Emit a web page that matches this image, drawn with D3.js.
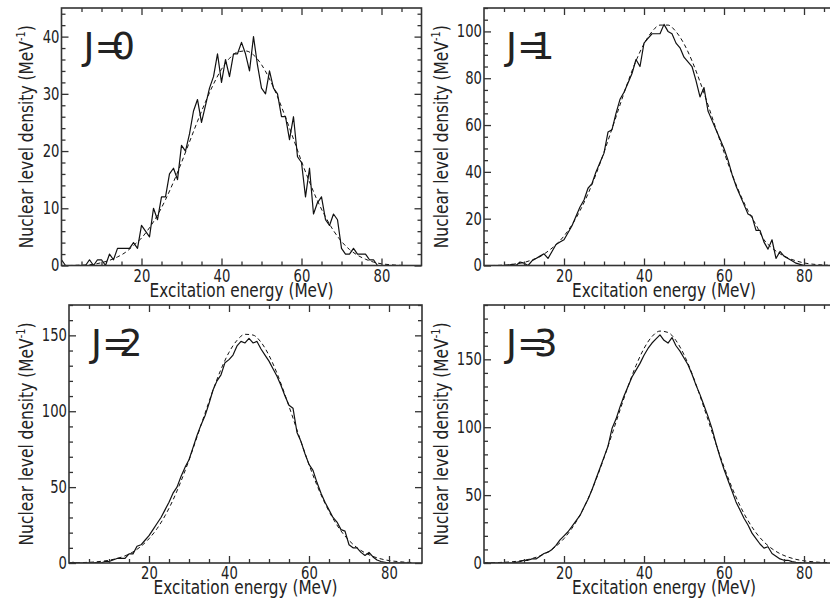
<!DOCTYPE html>
<html>
<head>
<meta charset="utf-8">
<script src="https://cdn.jsdelivr.net/npm/d3@7"></script>
<style>
  body { margin: 0; background: #fff; }
  svg { display: block; }
  text { font-family: "DejaVu Sans", sans-serif; fill: #222; }
</style>
</head>
<body>
<svg width="830" height="600"></svg>
<script>
// excitation energy bins (MeV)
const energy = [0,1,2,3,4,5,6,7,8,9,10,11,12,13,14,15,16,17,18,19,20,21,22,23,24,25,26,27,28,29,
  30,31,32,33,34,35,36,37,38,39,40,41,42,43,44,45,46,47,48,49,50,51,52,53,54,55,56,57,58,59,
  60,61,62,63,64,65,66,67,68,69,70,71,72,73,74,75,76,77,78,79,80,81,82,83,84,85];

// counted level density (solid lines)
const densityJ0 = [1,0,0,0,0,0,0,1,0,1, 1,0,2,1,3,3,3,3,4,3, 7,6,5,10,8,12,12,16,17,15,
  21,20,23,27,29,25,28,31,33,37, 32,36,33,37,37,39,37,34,40,35, 31,30,34,31,30,26,26,22,26,19,
  18,12,17,9,11,12,8,7,9,8, 3,2,2,3,2,2,2,1,1,0, 0,0,0,0,0,0];
const densityJ1 = [0,0,0,0,0,0,0,0.5,0,1.5, 1,0,2,3,4,5,3,6,9,10, 11,14,17,21,25,28,33,35,40,44,
  48,57,58,65,71,74,78,82,88,85, 95,97,99,99,99,103,100,99,95,93, 89,87,85,79,72,76,66,62,58,54,
  50,45,39,34,30,26,22,21,15,15, 10,7,11,3,6,4,3,2,1,0.5, 0,0,0,0,0,0];
const densityJ2 = [0,0.5,0,0,0,0,0,0.5,0,1, 1,2,3,3,3,6,6,11,12,15, 18,22,26,30,35,40,46,50,57,63,
  68,76,84,91,97,105,114,120,124,132, 134,137,143,146,145,148,145,146,141,137, 133,128,123,117,110,104,102,86,80,72,
  65,61,53,46,40,35,30,27,22,21, 12,10,10,7,5,7,4,2,1,0.5, 0,0,0,0,0,0];
const densityJ3 = [0,0,0,0,0,0,0,0,0.5,1, 2,2,3,3,5,7,8,10,13,17, 20,23,27,31,35,41,47,54,62,70,
  78,86,99,106,115,123,130,137,142,147, 153,158,162,165,168,164,162,166,160,156, 151,146,139,131,124,116,108,99,88,78,
  69,61,53,45,39,33,28,22,18,14, 11,12,7,5,3,2,2,1,0.5,0.3, 0,0,0,0,0,0];

// smooth estimate (dashed lines)
const fitEnergy = [0,2,4,6,8,10,12,14,16,18,20,22,24,26,28,30,32,34,36,38,40,42,
  44,46,48,50,52,54,56,58,60,62,64,66,68,70,72,74,76,78,80,82,84,86];
const fitJ0 = [0,0,0.05,0.1,0.2,0.5,0.9,1.5,2.3,3.5,4.8,6.6,8.8,11.5,14.6,18,21.6,25.2,28.6,31.7,34.3,36.2,
  37.3,37.5,36.8,35.1,32.6,29.5,25.9,22.1,18.2,14.6,11.3,8.5,6.1,4.2,2.8,1.8,1.1,0.6,0.3,0.15,0.05,0];
const fitJ1 = [0,0,0.1,0.3,0.7,1.3,2.4,3.8,6.1,8.9,12.6,17.4,23.4,30.6,39,48.4,58.4,68.6,78.5,87.4,94.7,99.9,
  102.7,102.7,99.9,94.7,87.4,78.5,68.6,58.4,48.4,39,30.6,23.4,17.4,11,7.5,5,3.2,2,1.1,0.6,0.3,0.1];
const fitJ2 = [0.1,0.2,0.35,0.6,1.1,1.8,3,4.7,7.3,11,16,22.6,31.1,41.5,53.9,67.8,83,98.6,113.8,127.6,138.8,146.7,
  150.7,150.2,145.5,136.8,125,110.8,95.5,79.9,64.9,51.2,39.3,29.3,21.1,14.9,10.1,6.7,4.3,2.7,1.6,1,0.55,0.3];
const fitJ3 = [0.1,0.2,0.4,0.7,1.2,2,3.3,5.3,8.2,12.3,18,25.6,35.3,47.2,61.4,77.4,94.8,112.6,129.9,145.4,158,166.8,
  170.8,169.8,163.8,153.4,139.5,123.1,105.5,87.7,70.8,55.5,42.2,31.2,22.3,15.5,10.5,6.9,4.4,2.7,1.6,1,0.5,0.3];

const spinLabels = ["0", "1", "2", "3"];
const xTicks = [20, 40, 60, 80];
const xMinor = [5, 10, 15, 25, 30, 35, 45, 50, 55, 65, 70, 75, 85];
const yTicksJ0 = [0, 10, 20, 30, 40];
const yTicksJ1 = [0, 20, 40, 60, 80, 100];
const yTicksJ2 = [0, 50, 100, 150];
const yTicksJ3 = [0, 50, 100, 150];

const svg = d3.select("svg");

const panels = [
  { spin: spinLabels[0], density: densityJ0, fit: fitJ0, yMax: 45, yTicks: yTicksJ0, yStep: 2,
    left: 61.5, right: 421.5, top: 8, bottom: 265.5, xMax: 90, titleX: 33 },
  { spin: spinLabels[1], density: densityJ1, fit: fitJ1, yMax: 110, yTicks: yTicksJ1, yStep: 5,
    left: 484, right: 844, top: 8, bottom: 265.5, xMax: 90, titleX: 448 },
  { spin: spinLabels[2], density: densityJ2, fit: fitJ2, yMax: 170, yTicks: yTicksJ2, yStep: 10,
    left: 69, right: 422, top: 305, bottom: 563, xMax: 88.25, titleX: 33 },
  { spin: spinLabels[3], density: densityJ3, fit: fitJ3, yMax: 190, yTicks: yTicksJ3, yStep: 10,
    left: 484, right: 844, top: 305, bottom: 563, xMax: 90, titleX: 448 }
];

const charWidth = 8.4;

// horizontal squeeze factor so a text fills the given width (the figure uses narrow glyphs)
function squeeze(node, width) {
  const w = node.getComputedTextLength();
  return w > 0 ? width / w : 1;
}

function styleAxis(g) {
  g.select(".domain").remove();
  g.selectAll("line").attr("stroke", "#333").attr("stroke-width", 1.3);
  g.selectAll("text").each(function () {
    if (!this.textContent) return;
    const t = d3.select(this)
      .attr("font-size", 17)
      .attr("fill", "#222")
      .attr("font-family", null);
    const x0 = +t.attr("x") || 0;
    const sx = squeeze(this, this.textContent.length * charWidth);
    t.attr("x", 0).attr("transform", `translate(${x0},0) scale(${sx},1)`);
  });
}

function drawPanel(p) {
  const x = d3.scaleLinear().domain([0, p.xMax]).range([p.left, p.right]);
  const y = d3.scaleLinear().domain([0, p.yMax]).range([p.bottom, p.top]);
  const yMinor = d3.range(0, p.yMax + 0.001, p.yStep).filter(v => !p.yTicks.includes(v));

  const g = svg.append("g");

  const clipId = "clip" + p.spin;
  g.append("clipPath").attr("id", clipId)
    .append("rect")
    .attr("x", p.left).attr("y", p.top)
    .attr("width", p.right - p.left).attr("height", p.bottom - p.top);

  const line = d3.line().x(d => x(d[0])).y(d => y(d[1]));

  g.append("path")
    .datum(energy.map((e, i) => [e, p.density[i]]))
    .attr("clip-path", `url(#${clipId})`)
    .attr("d", line)
    .attr("fill", "none")
    .attr("stroke", "#111")
    .attr("stroke-width", 1.2)
    .attr("stroke-linejoin", "round");

  g.append("path")
    .datum(fitEnergy.map((e, i) => [e, p.fit[i]]))
    .attr("clip-path", `url(#${clipId})`)
    .attr("d", line.curve(d3.curveMonotoneX))
    .attr("fill", "none")
    .attr("stroke", "#111")
    .attr("stroke-width", 1)
    .attr("stroke-dasharray", "4,3");

  // bottom axis, labelled, ticks inward
  g.append("g").attr("transform", `translate(0,${p.bottom})`)
    .call(d3.axisBottom(x).tickValues(xTicks).tickSize(-7).tickPadding(4).tickFormat(d3.format("d")))
    .call(styleAxis);
  g.append("g").attr("transform", `translate(0,${p.bottom})`)
    .call(d3.axisBottom(x).tickValues(xMinor).tickSize(-4).tickFormat(""))
    .call(styleAxis);
  g.append("g").attr("transform", `translate(0,${p.top})`)
    .call(d3.axisTop(x).tickValues(xTicks).tickSize(-7).tickFormat(""))
    .call(styleAxis);
  g.append("g").attr("transform", `translate(0,${p.top})`)
    .call(d3.axisTop(x).tickValues(xMinor).tickSize(-4).tickFormat(""))
    .call(styleAxis);

  g.append("g").attr("transform", `translate(${p.left},0)`)
    .call(d3.axisLeft(y).tickValues(p.yTicks).tickSize(-7).tickPadding(2).tickFormat(d3.format("d")))
    .call(styleAxis);
  g.append("g").attr("transform", `translate(${p.left},0)`)
    .call(d3.axisLeft(y).tickValues(yMinor).tickSize(-4).tickFormat(""))
    .call(styleAxis);
  g.append("g").attr("transform", `translate(${p.right},0)`)
    .call(d3.axisRight(y).tickValues(p.yTicks).tickSize(-7).tickFormat(""))
    .call(styleAxis);
  g.append("g").attr("transform", `translate(${p.right},0)`)
    .call(d3.axisRight(y).tickValues(yMinor).tickSize(-4).tickFormat(""))
    .call(styleAxis);

  g.append("rect")
    .attr("x", p.left).attr("y", p.top)
    .attr("width", p.right - p.left).attr("height", p.bottom - p.top)
    .attr("fill", "none")
    .attr("stroke", "#333")
    .attr("stroke-width", 1.6);

  // spin label, the digit tucked against the "=" as in the original
  const lab = g.append("text")
    .attr("y", p.top + 51)
    .attr("font-size", 37);
  lab.append("tspan").attr("x", p.left + 22).text("J");
  lab.append("tspan").attr("x", p.left + 33).text("=");
  lab.append("tspan").attr("x", p.left + (p.spin === "1" ? 47 : 50)).text(p.spin);

  const xt = g.append("text")
    .attr("text-anchor", "middle")
    .attr("font-size", 19)
    .text("Excitation energy (MeV)");
  const sxX = squeeze(xt.node(), 184);
  xt.attr("transform",
    `translate(${(p.left + Math.min(p.right, 846)) / 2},${p.bottom + 31}) scale(${sxX},1)`);

  const yt = g.append("text")
    .attr("text-anchor", "middle")
    .attr("font-size", 19);
  yt.append("tspan").text("Nuclear level density (MeV");
  yt.append("tspan").attr("font-size", 12).attr("dy", -8).text("-1");
  yt.append("tspan").attr("dy", 8).text(")");
  const sxY = squeeze(yt.node(), 223);
  yt.attr("transform",
    `translate(${p.titleX},${(p.top + p.bottom) / 2}) rotate(-90) scale(${sxY},1)`);
}

panels.forEach(drawPanel);
</script>
</body>
</html>
